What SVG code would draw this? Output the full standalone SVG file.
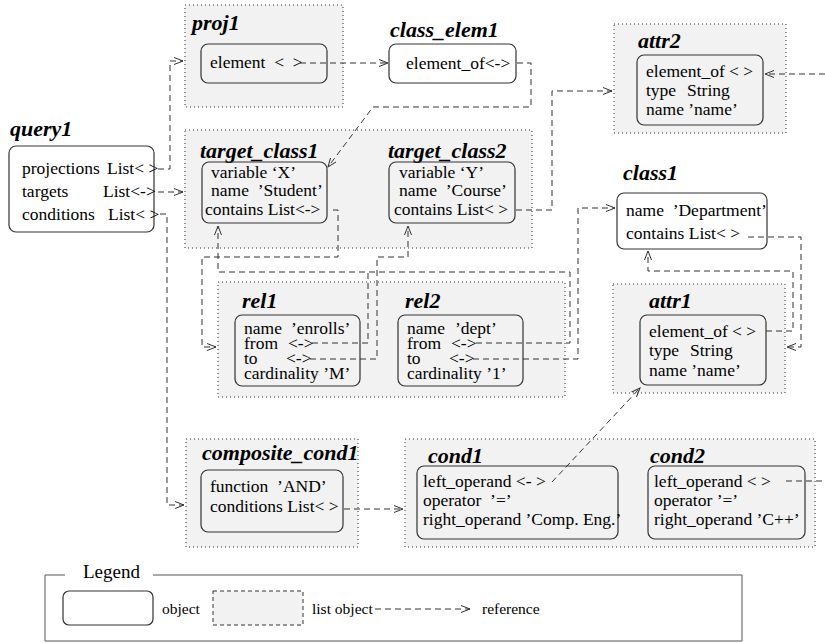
<svg xmlns="http://www.w3.org/2000/svg" width="825" height="643" viewBox="0 0 825 643" font-family="'Liberation Serif', 'Times New Roman', serif">
<defs>
<style>
.t{font-family:"Liberation Serif","Times New Roman",serif;font-size:17.5px;fill:#000}
.lb{font-family:"Liberation Serif","Times New Roman",serif;font-size:22px;font-weight:bold;font-style:italic;fill:#000}
.lg{font-family:"Liberation Serif","Times New Roman",serif;font-size:15.5px;fill:#000}
.grp{fill:#f2f2f2;stroke:#333;stroke-width:1;stroke-dasharray:1,3}
.obj{fill:#fff;stroke:#333;stroke-width:1.2}
.objg{fill:none;stroke:#333;stroke-width:1.2}
.c{fill:none;stroke:#333;stroke-width:1;stroke-dasharray:6,4}
</style>
<marker id="ah" markerWidth="11" markerHeight="9" refX="9" refY="4" orient="auto" markerUnits="userSpaceOnUse"><path d="M0,0.5 L9,4 L0,7.5" fill="none" stroke="#333" stroke-width="1"/></marker>
</defs>
<rect width="825" height="643" fill="#fff"/>

<g id="query1">
<text class="lb" x="10" y="136">query1</text>
<rect class="obj" x="9" y="146" width="145" height="86" rx="7"/>
<text class="t" x="22" y="174">projections</text><text class="t" x="107" y="174" xml:space="preserve">List&lt; &gt;</text>
<text class="t" x="22" y="197">targets</text><text class="t" x="103" y="197">List&lt;-&gt;</text>
<text class="t" x="22" y="220">conditions</text><text class="t" x="108" y="220" xml:space="preserve">List&lt; &gt;</text>
</g>

<g id="proj1">
<rect class="grp" x="185" y="5" width="158" height="102"/>
<text class="lb" x="192" y="30">proj1</text>
<rect class="objg" x="201" y="44" width="126" height="39" rx="7"/>
<text class="t" x="210" y="68" xml:space="preserve">element  &lt;  &gt;</text>
</g>

<g id="class_elem1">
<text class="lb" x="390" y="37">class_elem1</text>
<rect class="obj" x="389" y="44" width="127" height="39" rx="7"/>
<text class="t" x="406" y="69">element_of&lt;-&gt;</text>
</g>

<g id="attr2">
<rect class="grp" x="614" y="24" width="172" height="109"/>
<text class="lb" x="638" y="48">attr2</text>
<rect class="objg" x="637" y="55" width="126" height="70" rx="7"/>
<text class="t" x="646" y="77" xml:space="preserve">element_of &lt; &gt;</text>
<text class="t" x="646" y="96">type</text><text class="t" x="687" y="96">String</text>
<text class="t" x="646" y="115">name ’name’</text>
</g>

<g id="target_classes">
<rect class="grp" x="185" y="130" width="347" height="118"/>
</g>
<g id="target_class1">
<text class="lb" x="200" y="158">target_class1</text>
<rect class="objg" x="202" y="162" width="125" height="61" rx="7"/>
<text class="t" x="211" y="178">variable ‘X’</text>
<text class="t" x="211" y="196" xml:space="preserve">name  ’Student’</text>
<text class="t" x="205" y="215">contains List&lt;-&gt;</text>
</g>
<g id="target_class2">
<text class="lb" x="388" y="158">target_class2</text>
<rect class="objg" x="389" y="162" width="126" height="61" rx="7"/>
<text class="t" x="399" y="178">variable ‘Y’</text>
<text class="t" x="399" y="196" xml:space="preserve">name  ’Course’</text>
<text class="t" x="394" y="215" xml:space="preserve">contains List&lt; &gt;</text>
</g>

<g id="class1">
<text class="lb" x="623" y="180">class1</text>
<rect class="obj" x="617" y="193" width="150" height="56" rx="7"/>
<text class="t" x="626" y="216" xml:space="preserve">name  ’Department’</text>
<text class="t" x="626" y="239" xml:space="preserve">contains List&lt; &gt;</text>
</g>

<g id="rels">
<rect class="grp" x="218" y="282" width="347" height="115"/>
</g>
<g id="rel1">
<text class="lb" x="242" y="308">rel1</text>
<rect class="objg" x="235" y="315" width="125" height="71" rx="7"/>
<text class="t" x="244" y="334">name</text><text class="t" x="291" y="334">’enrolls’</text>
<text class="t" x="244" y="349">from</text><text class="t" x="288" y="349">&lt;-&gt;</text>
<text class="t" x="244" y="364">to</text><text class="t" x="286" y="364">&lt;-&gt;</text>
<text class="t" x="244" y="379">cardinality ’M’</text>
</g>
<g id="rel2">
<text class="lb" x="405" y="308">rel2</text>
<rect class="objg" x="398" y="315" width="125" height="71" rx="7"/>
<text class="t" x="407" y="334">name</text><text class="t" x="455" y="334">’dept’</text>
<text class="t" x="407" y="349">from</text><text class="t" x="451" y="349">&lt;-&gt;</text>
<text class="t" x="407" y="364">to</text><text class="t" x="449" y="364">&lt;-&gt;</text>
<text class="t" x="407" y="379">cardinality ’1’</text>
</g>

<g id="attr1">
<rect class="grp" x="613" y="284" width="172" height="109"/>
<text class="lb" x="649" y="308">attr1</text>
<rect class="objg" x="640" y="315" width="126" height="70" rx="7"/>
<text class="t" x="649" y="337" xml:space="preserve">element_of &lt; &gt;</text>
<text class="t" x="649" y="356">type</text><text class="t" x="690" y="356">String</text>
<text class="t" x="649" y="376">name ’name’</text>
</g>

<g id="composite_cond1">
<rect class="grp" x="186" y="439" width="172" height="108"/>
<text class="lb" x="202" y="460">composite_cond1</text>
<rect class="objg" x="201" y="470" width="142" height="62" rx="7"/>
<text class="t" x="210" y="492" xml:space="preserve">function  ’AND’</text>
<text class="t" x="210" y="512" xml:space="preserve">conditions List&lt; &gt;</text>
</g>

<g id="conds">
<rect class="grp" x="405" y="439" width="410" height="108"/>
</g>
<g id="cond1">
<text class="lb" x="428" y="463">cond1</text>
<rect class="objg" x="417" y="466" width="201" height="73" rx="7"/>
<text class="t" x="423" y="487" xml:space="preserve">left_operand &lt;- &gt;</text>
<text class="t" x="423" y="506" xml:space="preserve">operator  ’=’</text>
<text class="t" x="423" y="525">right_operand ’Comp. Eng.’</text>
</g>
<g id="cond2">
<text class="lb" x="650" y="463">cond2</text>
<rect class="objg" x="648" y="466" width="157" height="73" rx="7"/>
<text class="t" x="654" y="487" xml:space="preserve">left_operand &lt; &gt;</text>
<text class="t" x="654" y="506">operator ’=’</text>
<text class="t" x="654" y="525">right_operand ’C++’</text>
</g>

<g id="connectors">
<path class="c" d="M158,169 H170 V61 H183" marker-end="url(#ah)"/>
<path class="c" d="M158,192 H183" marker-end="url(#ah)"/>
<path class="c" d="M160,214 H167 V505 H184" marker-end="url(#ah)"/>
<path class="c" d="M300,63 H388" marker-end="url(#ah)"/>
<path class="c" d="M517,63 H531 V107 H373 L328,167" marker-end="url(#ah)"/>
<path class="c" d="M516,210 H552 V91 H612" marker-end="url(#ah)"/>
<path class="c" d="M333,210 H338 V257 H202 V347 H216" marker-end="url(#ah)"/>
<path class="c" d="M312,343 H368 V272"/>
<path class="c" d="M476,343 H570 V272 H218 V226" marker-end="url(#ah)"/>
<path class="c" d="M310,359 H377 V257 H408 V226" marker-end="url(#ah)"/>
<path class="c" d="M473,359 H578 V208 H615" marker-end="url(#ah)"/>
<path class="c" d="M748,237 H801 V347 H787" marker-end="url(#ah)"/>
<path class="c" d="M766,331 H793 V271 H648 V251" marker-end="url(#ah)"/>
<path class="c" d="M552,482 L640,388" marker-end="url(#ah)"/>
<path class="c" d="M786,481 H825"/>
<path class="c" d="M825,74 H765" marker-end="url(#ah)"/>
<path class="c" d="M344,509 H403" marker-end="url(#ah)"/>
</g>

<g id="legend">
<path d="M65,575 H45 V641 H742 V575 H153" fill="none" stroke="#555" stroke-width="1"/>
<text x="83" y="578" font-family="'Liberation Serif', 'Times New Roman', serif" font-size="19">Legend</text>
<rect class="obj" x="63" y="591" width="90" height="34" rx="6"/>
<text class="lg" x="162" y="614">object</text>
<rect x="213" y="591" width="90" height="34" fill="#f2f2f2" stroke="#333" stroke-width="1" stroke-dasharray="4,3"/>
<text class="lg" x="312" y="614">list object</text>
<path class="c" d="M375,609 H470" marker-end="url(#ah)"/>
<text class="lg" x="482" y="614">reference</text>
</g>
</svg>
